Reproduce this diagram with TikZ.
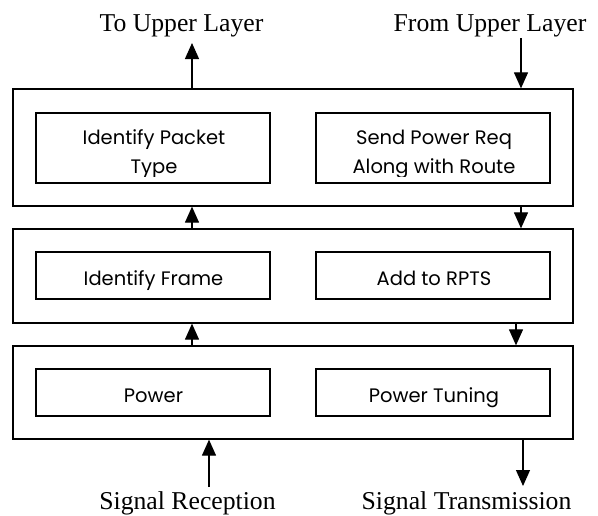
\documentclass[tikz,border=0pt]{standalone}
\usepackage{fontspec}
\setmainfont{Liberation Serif}
\newfontfamily\boxfont{Poppins}
\usetikzlibrary{arrows.meta}
\begin{document}
\begin{tikzpicture}[x=1pt,y=-1pt,
  outerbox/.style={draw,line width=1.3pt,minimum width=560pt,inner sep=0pt},
  innerbox/.style={draw,line width=1.2pt,minimum width=234pt,inner sep=0pt},
  boxtext/.style={font=\boxfont\fontsize{19.5}{29}\selectfont,inner sep=0pt,anchor=base},
  lbl/.style={font=\fontsize{25.7}{28}\selectfont,inner sep=0pt,anchor=base},
  arr/.style={line width=1.2pt,-{Triangle[length=16pt,width=14pt]}}]
\useasboundingbox (0,0) rectangle (598,515);
% outer boxes
\node[outerbox,minimum height=117pt] (o1) at (293,147.5) {};
\node[outerbox,minimum height=94pt] (o2) at (293,276) {};
\node[outerbox,minimum height=93pt] (o3) at (293,392.5) {};
% inner boxes
\node[innerbox,minimum height=70pt] (a1) at (153,148) {};
\node[innerbox,minimum height=70pt] (b1) at (433,148) {};
\node[innerbox,minimum height=47pt] (a2) at (153,275.5) {};
\node[innerbox,minimum height=47pt] (b2) at (433,275.5) {};
\node[innerbox,minimum height=47pt] (a3) at (153,392.5) {};
\node[innerbox,minimum height=47pt] (b3) at (433,392.5) {};
% texts (second lines clipped, as in the original text frames)
\coordinate (cut) at (0,176.5);
\begin{scope}
\clip (a1.north west) rectangle (a1.east |- cut);
\node[boxtext] (ta1) at (154,144.3) {Identify Packet};
\node[boxtext] (ta1b) at (154,173.5) {Type};
\end{scope}
\begin{scope}
\clip (b1.north west) rectangle (b1.east |- cut);
\node[boxtext] (tb1) at (434,144.3) {Send Power Req};
\node[boxtext] (tb1b) at (434,173.5) {Along with Route};
\end{scope}
\node[boxtext] (ta2) at (153.5,285) {Identify Frame};
\node[boxtext] (tb2) at (434,285) {Add to RPTS};
\node[boxtext] (ta3) at (153.5,402) {Power};
\node[boxtext] (tb3) at (434,402) {Power Tuning};
% labels
\node[lbl] (lt) at (181.5,31) {To Upper Layer};
\node[lbl] (ft) at (490,31) {From Upper Layer};
\node[lbl] (sr) at (187.5,509) {Signal Reception};
\node[lbl] (st) at (466.5,509) {Signal Transmission};
% columns
\coordinate (cL) at (192,0);
\coordinate (cR) at (209,0);
\coordinate (dA) at (521,0);
\coordinate (dB) at (516,0);
\coordinate (dC) at (523,0);
\coordinate (upEnd) at (192,43);
\coordinate (downStart) at (521,38);
\coordinate (recStart) at (209,487);
\coordinate (txEnd) at (523,486);
% arrows
\draw[arr] (o1.north -| cL) -- (upEnd);
\draw[arr] (o2.north -| cL) -- (o1.south -| cL);
\draw[arr] (o3.north -| cL) -- (o2.south -| cL);
\draw[arr] (recStart) -- (o3.south -| cR);
\draw[arr] (downStart) -- (o1.north -| dA);
\draw[arr] (o1.south -| dA) -- (o2.north -| dA);
\draw[arr] (o2.south -| dB) -- (o3.north -| dB);
\draw[arr] (o3.south -| dC) -- (txEnd);
\end{tikzpicture}
\end{document}
